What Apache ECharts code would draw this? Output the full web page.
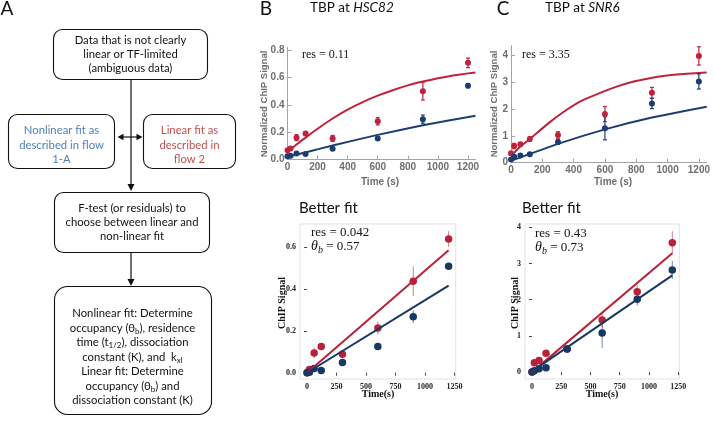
<!DOCTYPE html>
<html><head><meta charset="utf-8">
<script src="https://cdn.jsdelivr.net/npm/echarts@6/dist/echarts.min.js"></script>
<style>html,body{margin:0;padding:0;background:#fff}#c{width:713px;height:421px}</style>
</head><body><div id="c"></div><script>
// ---------- data ----------
const times = [0, 20, 60, 120, 300, 600, 900, 1200];
// Panel B top: TBP at HSC82 (nonlinear fit)
const bTopRed = [0.068, 0.08, 0.16, 0.19, 0.154, 0.28, 0.50, 0.707];
const bTopRedErr = [0.008, 0.01, 0.022, 0.01, 0.022, 0.027, 0.065, 0.035];
const bTopBlue = [0.024, 0.028, 0.044, 0.04, 0.078, 0.154, 0.295, 0.54];
const bTopBlueErr = [0.005, 0.005, 0.008, 0.006, 0.01, 0.01, 0.03, 0.015];
const bTopRedFitT = [0, 60, 120, 200, 300, 400, 500, 600, 700, 800, 900, 1000, 1100, 1200, 1250];
const bTopRedFit = [0.056, 0.11, 0.16, 0.225, 0.3, 0.365, 0.42, 0.467, 0.507, 0.542, 0.57, 0.594, 0.614, 0.63, 0.637];
const bTopBlueFitT = [0, 150, 300, 600, 900, 1250];
const bTopBlueFit = [0.02, 0.06, 0.103, 0.18, 0.25, 0.32];
// Panel C top: TBP at SNR6 (nonlinear fit)
const cTopRed = [0.35, 0.62, 0.69, 0.88, 1.03, 1.81, 2.6, 3.97];
const cTopRedErr = [0.06, 0.1, 0.06, 0.08, 0.12, 0.28, 0.2, 0.34];
const cTopBlue = [0.12, 0.22, 0.27, 0.31, 0.77, 1.28, 2.2, 3.02];
const cTopBlueErr = [0.04, 0.04, 0.04, 0.05, 0.08, 0.43, 0.19, 0.28];
const cTopRedFitT = [0, 60, 124, 246, 351, 450, 562, 670, 772, 880, 983, 1100, 1250];
const cTopRedFit = [0.25, 0.6, 0.9, 1.5, 1.95, 2.3, 2.58, 2.82, 3.0, 3.13, 3.23, 3.3, 3.35];
const cTopBlueFitT = [0, 300, 600, 900, 1250];
const cTopBlueFit = [0.07, 0.7, 1.24, 1.68, 2.08];
// Panel B bottom: better fit (linear)
const bBotRed = [0, 0.016, 0.095, 0.125, 0.089, 0.214, 0.438, 0.64];
const bBotRedErr = [0, 0.008, 0.025, 0.006, 0.015, 0.03, 0.071, 0.038];
const bBotBlue = [0, 0.002, 0.02, 0.011, 0.049, 0.125, 0.268, 0.51];
const bBotBlueErr = [0, 0, 0.004, 0.004, 0.01, 0.006, 0.03, 0.016];
const botFitT = [0, 1200];
const bBotRedFit = [0, 0.586];
const bBotBlueFit = [0, 0.417];
// Panel C bottom: better fit (linear)
const cBotRed = [0, 0.26, 0.32, 0.52, 0.64, 1.44, 2.22, 3.57];
const cBotRedErr = [0, 0.06, 0.03, 0.04, 0.1, 0.2, 0.2, 0.32];
const cBotBlue = [0, 0.04, 0.09, 0.12, 0.64, 1.08, 2.01, 2.82];
const cBotBlueErr = [0, 0.01, 0.02, 0.02, 0.05, 0.41, 0.17, 0.25];
const cBotRedFit = [0, 3.28];
const cBotBlueFit = [0.02, 2.67];
// tick labels
const topXTicks = [0, 200, 400, 600, 800, 1000, 1200];
const bTopYTicks = [0, 0.2, 0.4, 0.6, 0.8];
const cTopYTicks = [0, 1, 2, 3, 4];
const botXTicks = [0, 250, 500, 750, 1000, 1250];
const bBotYTicks = [0, 0.2, 0.4, 0.6];
const cBotYTicks = [0, 1, 2, 3, 4];

// ---------- helpers ----------
const RED = '#c0223b', BLUE = '#1d3d70';
const RED2 = '#b9213a', BLUE2 = '#163863';
const SANS = 'Lato';
const zip = (a, b) => a.map((v, i) => [v, b[i]]);
const errData = (t, v, e) => t.map((x, i) => [x, v[i] - e[i], v[i] + e[i]]);
const f1 = v => Number(v).toFixed(1);
const f0 = v => String(Math.round(Number(v)));

function errSeries(gi, data, color, cap, width, opacity) {
  return {
    type: 'custom', xAxisIndex: gi, yAxisIndex: gi, z: 3, silent: true,
    data: data, encode: { x: 0, y: [1, 2] },
    renderItem: function (params, api) {
      const x = api.value(0), lo = api.value(1), hi = api.value(2);
      const p1 = api.coord([x, lo]), p2 = api.coord([x, hi]);
      const st = { stroke: color, lineWidth: width, opacity: opacity };
      const ch = [{ type: 'line', shape: { x1: p1[0], y1: p1[1], x2: p2[0], y2: p2[1] }, style: st }];
      if (cap) {
        ch.push({ type: 'line', shape: { x1: p1[0] - cap, y1: p1[1], x2: p1[0] + cap, y2: p1[1] }, style: st });
        ch.push({ type: 'line', shape: { x1: p2[0] - cap, y1: p2[1], x2: p2[0] + cap, y2: p2[1] }, style: st });
      }
      return { type: 'group', children: ch };
    }
  };
}
function lineSeries(gi, data, color, smooth, z) {
  return { type: 'line', xAxisIndex: gi, yAxisIndex: gi, data: data, smooth: smooth, showSymbol: false,
    z: z, silent: true, lineStyle: { color: color, width: 2 }, itemStyle: { color: color } };
}
function scatterSeries(gi, data, color, size) {
  return { type: 'scatter', xAxisIndex: gi, yAxisIndex: gi, data: data, symbolSize: size, z: 4, silent: true,
    itemStyle: { color: color, opacity: 1 } };
}
function topX(gi) {
  return { gridIndex: gi, type: 'value', min: 0, max: 1250,
    axisLine: { show: true, onZero: false, lineStyle: { color: '#a3a3a3', width: 1 } },
    axisTick: { show: true, inside: true, length: 4, customValues: topXTicks, lineStyle: { color: '#a3a3a3' } },
    axisLabel: { customValues: topXTicks, formatter: f0, color: '#6e6e6e', fontWeight: 'bold', fontSize: 10, fontFamily: 'Liberation Sans', margin: 3 },
    splitLine: { show: false } };
}
function topY(gi, max, ticks, fmt) {
  return { gridIndex: gi, type: 'value', min: 0, max: max,
    axisLine: { show: true, onZero: false, lineStyle: { color: '#a3a3a3', width: 1 } },
    axisTick: { show: true, inside: true, length: 4, customValues: ticks, lineStyle: { color: '#a3a3a3' } },
    axisLabel: { customValues: ticks, formatter: fmt, color: '#6e6e6e', fontWeight: 'bold', fontSize: 10, fontFamily: 'Liberation Sans', margin: 3 },
    splitLine: { show: false } };
}
function botX(gi) {
  return { gridIndex: gi, type: 'value', min: -60, max: 1260,
    axisLine: { show: false },
    axisTick: { show: true, length: 3, customValues: botXTicks, lineStyle: { color: '#444' } },
    axisLabel: { customValues: botXTicks, formatter: f0, color: '#222', fontWeight: 'bold', fontSize: 8, fontFamily: 'Liberation Serif', margin: 4 },
    splitLine: { show: false } };
}
function botY(gi, min, max, ticks, fmt) {
  return { gridIndex: gi, type: 'value', min: min, max: max,
    axisLine: { show: false },
    axisTick: { show: true, length: 3, customValues: ticks, lineStyle: { color: '#444' } },
    axisLabel: { customValues: ticks, formatter: fmt, color: '#222', fontWeight: 'bold', fontSize: 8, fontFamily: 'Liberation Serif', margin: 4 },
    splitLine: { show: false } };
}

function txt(x, y, text, o) {
  o = o || {};
  const style = { text: text, fill: o.color || '#111', fontSize: o.size || 11, fontFamily: o.family || SANS,
    fontWeight: o.weight || 'normal', fontStyle: o.fstyle || 'normal', align: o.align || 'center', verticalAlign: 'middle' };
  if (o.rich) style.rich = o.rich;
  if (o.lh) style.lineHeight = o.lh;
  return { type: 'text', x: x, y: y, rotation: o.rot || 0, silent: true, z: 10, style: style };
}
function box(x, y, w, h, r) {
  return { type: 'rect', shape: { x: x, y: y, width: w, height: h, r: r }, silent: true, z: 5,
    style: { fill: '#fff', stroke: '#111', lineWidth: 1.1 } };
}
function seg(x1, y1, x2, y2) {
  return { type: 'line', shape: { x1: x1, y1: y1, x2: x2, y2: y2 }, silent: true, z: 5, style: { stroke: '#111', lineWidth: 1.2 } };
}
function head(pts) {
  return { type: 'polygon', shape: { points: pts }, silent: true, z: 5, style: { fill: '#111' } };
}
function subRich(size, fam) {
  return { sub: { fontSize: size, fontFamily: fam || SANS, verticalAlign: 'bottom', fill: '#111' } };
}
const thetaRich = {
  it: { fontSize: 14, fontFamily: 'Liberation Serif', fontStyle: 'italic', fill: '#111' },
  sub: { fontSize: 10, fontFamily: 'Liberation Serif', fontStyle: 'italic', verticalAlign: 'bottom', fill: '#111' },
  n: { fontSize: 13, fontFamily: 'Liberation Serif', fill: '#111' }
};

// ---------- graphics (flowchart + labels) ----------
const fc = 11.3;
const graphics = [
  txt(7, 9, 'A', { size: 19, align: 'center' }),
  box(53.5, 29.5, 154, 50, 9),
  txt(130.5, 40, 'Data that is not clearly', { size: fc }),
  txt(130.5, 54, 'linear or TF-limited', { size: fc }),
  txt(130.5, 68, '(ambiguous data)', { size: fc }),
  box(8.5, 114.5, 106, 54, 9),
  txt(61.5, 130, 'Nonlinear fit as', { size: fc, color: '#4f81bd' }),
  txt(61.5, 145, 'described in flow', { size: fc, color: '#4f81bd' }),
  txt(61.5, 159, '1-A', { size: fc, color: '#4f81bd' }),
  box(143.5, 114.5, 92, 54, 9),
  txt(189.5, 130, 'Linear fit as', { size: fc, color: '#c0504d' }),
  txt(189.5, 145, 'described in', { size: fc, color: '#c0504d' }),
  txt(189.5, 159, 'flow 2', { size: fc, color: '#c0504d' }),
  seg(131, 79.5, 131, 185),
  head([[127.5, 184], [134.5, 184], [131, 191]]),
  seg(122, 137, 138, 137),
  head([[117.5, 137], [123.5, 133.8], [123.5, 140.2]]),
  head([[142.5, 137], [136.5, 133.8], [136.5, 140.2]]),
  box(54.5, 192.5, 155, 60, 9),
  txt(132, 208.5, 'F-test (or residuals) to', { size: fc }),
  txt(132, 222.5, 'choose between linear and', { size: fc }),
  txt(132, 236.5, 'non-linear fit', { size: fc }),
  seg(131, 252.5, 131, 280),
  head([[127.5, 279], [134.5, 279], [131, 286]]),
  box(54.5, 286.5, 157, 128, 13),
  txt(132.5, 313, 'Nonlinear fit: Determine', { size: fc }),
  txt(132.5, 328, 'occupancy (θ{sub|b}), residence', { size: fc, lh: 14, rich: subRich(8) }),
  txt(132.5, 342.5, 'time (t{sub|1/2}), dissociation', { size: fc, lh: 14, rich: subRich(8) }),
  txt(132.5, 357, 'constant (K), and  k{sub|xl}', { size: fc, lh: 14, rich: subRich(8) }),
  txt(132.5, 371.5, 'Linear fit: Determine', { size: fc }),
  txt(132.5, 386, 'occupancy (θ{sub|b}) and', { size: fc, lh: 14, rich: subRich(8) }),
  txt(132.5, 400, 'dissociation constant (K)', { size: fc }),
  // panel B/C headers
  txt(266, 9, 'B', { size: 19 }),
  txt(310, 8, 'TBP at {i|HSC82}', { size: 13.5, align: 'left', rich: { i: { fontSize: 13.5, fontFamily: SANS, fontStyle: 'italic', fill: '#111' } } }),
  txt(503, 9, 'C', { size: 19 }),
  txt(545, 8, 'TBP at {i|SNR6}', { size: 13.5, align: 'left', rich: { i: { fontSize: 13.5, fontFamily: SANS, fontStyle: 'italic', fill: '#111' } } }),
  // top axis titles
  txt(264, 104, 'Normalized ChIP Signal', { size: 9.5, family: 'Liberation Sans', weight: 'bold', color: '#6e6e6e', rot: Math.PI / 2 }),
  txt(380, 182, 'Time (s)', { size: 10, family: 'Liberation Sans', weight: 'bold', color: '#6e6e6e' }),
  txt(494.5, 104, 'Normalized ChIP Signal', { size: 9.5, family: 'Liberation Sans', weight: 'bold', color: '#6e6e6e', rot: Math.PI / 2 }),
  txt(613, 182, 'Time (s)', { size: 10, family: 'Liberation Sans', weight: 'bold', color: '#6e6e6e' }),
  txt(302, 55, 'res = 0.11', { size: 12, family: 'Liberation Serif', align: 'left' }),
  txt(522, 55, 'res = 3.35', { size: 12, family: 'Liberation Serif', align: 'left' }),
  // bottom
  txt(299, 208, 'Better fit', { size: 15, align: 'left' }),
  txt(522, 208, 'Better fit', { size: 15, align: 'left' }),
  txt(282.5, 303, 'ChIP Signal', { size: 10, family: 'Liberation Serif', weight: 'bold', rot: Math.PI / 2 }),
  txt(378, 394, 'Time(s)', { size: 10, family: 'Liberation Serif', weight: 'bold' }),
  txt(515, 303, 'ChIP Signal', { size: 10, family: 'Liberation Serif', weight: 'bold', rot: Math.PI / 2 }),
  txt(602, 394, 'Time(s)', { size: 10, family: 'Liberation Serif', weight: 'bold' }),
  txt(311, 232.5, 'res = 0.042', { size: 13, family: 'Liberation Serif', align: 'left' }),
  txt(311, 246.5, '{it|θ}{sub|b}{n| = 0.57}', { size: 13, family: 'Liberation Serif', align: 'left', lh: 17, rich: thetaRich }),
  txt(535, 233.5, 'res = 0.43', { size: 13, family: 'Liberation Serif', align: 'left' }),
  txt(535, 247.5, '{it|θ}{sub|b}{n| = 0.73}', { size: 13, family: 'Liberation Serif', align: 'left', lh: 17, rich: thetaRich })
];

// ---------- chart ----------
const chart = echarts.init(document.getElementById('c'), null, { renderer: 'canvas' });
chart.setOption({
  animation: false,
  backgroundColor: '#fff',
  grid: [
    { left: 287.5, top: 47.4, width: 188, height: 112.1 },
    { left: 511, top: 45.7, width: 197, height: 117 },
    { left: 300, top: 224, width: 155.7, height: 155, show: true, borderColor: '#e2e2e2', borderWidth: 1, backgroundColor: 'transparent' },
    { left: 525, top: 224, width: 154.3, height: 155, show: true, borderColor: '#e2e2e2', borderWidth: 1, backgroundColor: 'transparent' }
  ],
  xAxis: [topX(0), topX(1), botX(2), botX(3)],
  yAxis: [
    topY(0, 0.82, bTopYTicks, f1),
    topY(1, 4.35, cTopYTicks, f0),
    botY(2, -0.03, 0.712, bBotYTicks, f1),
    botY(3, -0.19, 4.09, cBotYTicks, f0)
  ],
  series: [
    // B top
    lineSeries(0, zip(bTopRedFitT, bTopRedFit), RED, 0.15, 2),
    lineSeries(0, zip(bTopBlueFitT, bTopBlueFit), BLUE, 0.15, 2),
    errSeries(0, errData(times, bTopRed, bTopRedErr), RED, 2, 1.2, 1),
    errSeries(0, errData(times, bTopBlue, bTopBlueErr), BLUE, 2, 1.2, 1),
    scatterSeries(0, zip(times, bTopRed), RED, 6),
    scatterSeries(0, zip(times, bTopBlue), BLUE, 6),
    // C top
    lineSeries(1, zip(cTopRedFitT, cTopRedFit), RED, 0.15, 2),
    lineSeries(1, zip(cTopBlueFitT, cTopBlueFit), BLUE, 0.15, 2),
    errSeries(1, errData(times, cTopRed, cTopRedErr), RED, 2, 1.2, 1),
    errSeries(1, errData(times, cTopBlue, cTopBlueErr), BLUE, 2, 1.2, 1),
    scatterSeries(1, zip(times, cTopRed), RED, 6),
    scatterSeries(1, zip(times, cTopBlue), BLUE, 6),
    // B bottom
    errSeries(2, errData(times, bBotRed, bBotRedErr), RED2, 0, 1, 0.6),
    errSeries(2, errData(times, bBotBlue, bBotBlueErr), BLUE2, 0, 1, 0.6),
    scatterSeries(2, zip(times, bBotRed), RED2, 7.5),
    scatterSeries(2, zip(times, bBotBlue), BLUE2, 7.5),
    lineSeries(2, zip(botFitT, bBotRedFit), RED2, false, 5),
    lineSeries(2, zip(botFitT, bBotBlueFit), BLUE2, false, 5),
    // C bottom
    errSeries(3, errData(times, cBotRed, cBotRedErr), RED2, 0, 1, 0.6),
    errSeries(3, errData(times, cBotBlue, cBotBlueErr), BLUE2, 0, 1, 0.6),
    scatterSeries(3, zip(times, cBotRed), RED2, 7.5),
    scatterSeries(3, zip(times, cBotBlue), BLUE2, 7.5),
    lineSeries(3, zip(botFitT, cBotRedFit), RED2, false, 5),
    lineSeries(3, zip(botFitT, cBotBlueFit), BLUE2, false, 5)
  ],
  graphic: graphics
});
</script></body></html>
